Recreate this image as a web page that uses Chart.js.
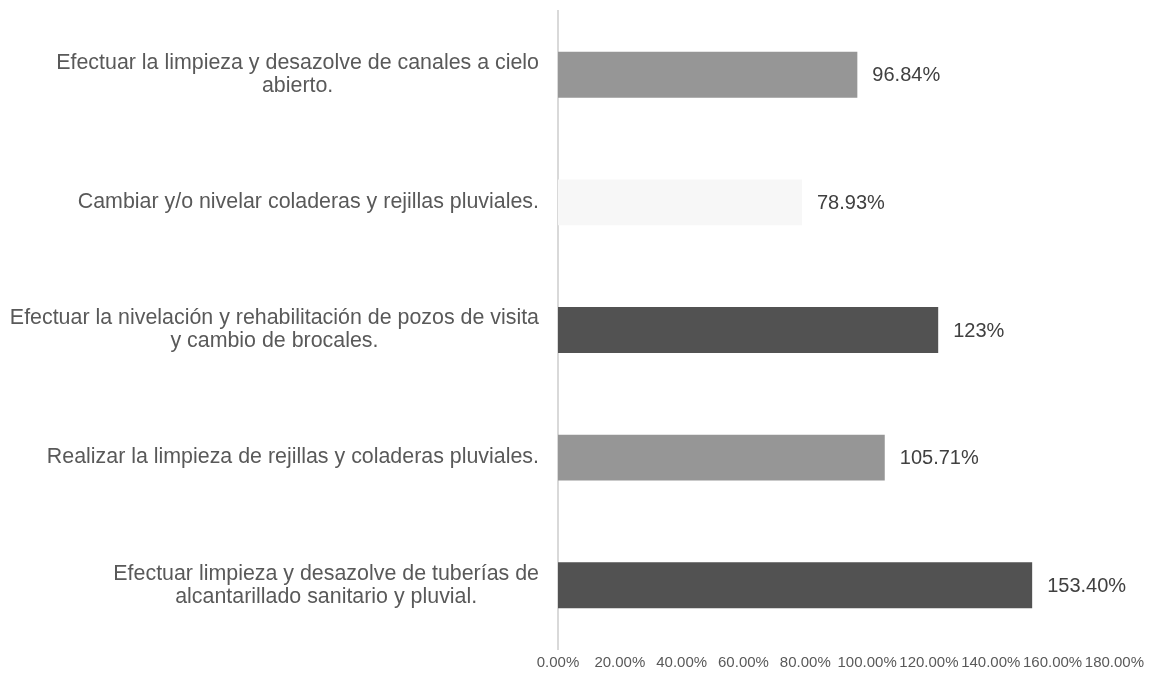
<!DOCTYPE html>
<html>
<head>
<meta charset="utf-8">
<script src="https://cdn.jsdelivr.net/npm/chart.js@4/dist/chart.umd.min.js"></script>
<style>
  body { margin: 0; background: #fff; }
  #wrap { width: 1149px; height: 677px; }
</style>
</head>
<body>
<div id="wrap"><canvas id="myChart"></canvas></div>
<script>
// categories (each entry = lines of the wrapped label)
var categories = [
    ['Efectuar la limpieza y desazolve de canales a cielo', 'abierto.'],
    ['Cambiar y/o nivelar coladeras y rejillas pluviales.'],
    ['Efectuar la nivelación y rehabilitación de pozos de visita', 'y cambio de brocales.'],
    ['Realizar la limpieza de rejillas y coladeras pluviales.'],
    ['Efectuar limpieza y desazolve de tuberías de', 'alcantarillado sanitario y pluvial.']
];
var values = [96.84, 78.93, 123, 105.71, 153.40];
var valueLabels = ['96.84%', '78.93%', '123%', '105.71%', '153.40%'];
var tickValues = [0, 20, 40, 60, 80, 100, 120, 140, 160, 180];

var barColors = ['#969696', '#f7f7f7', '#525252', '#969696', '#525252'];
var FONT = '"Liberation Sans", Arial, sans-serif';

// category labels, drawn centered line by line like the original
var categoryLabels = {
    id: 'categoryLabels',
    afterDraw: function(chart) {
        var ctx = chart.ctx;
        var yScale = chart.scales.y;
        var rightEdge = chart.chartArea.left - 19;
        var lineHeight = 23;
        ctx.save();
        ctx.font = '21.4px ' + FONT;
        ctx.fillStyle = '#595959';
        ctx.textAlign = 'center';
        ctx.textBaseline = 'middle';
        categories.forEach(function(lines, i) {
            var y = yScale.getPixelForValue(i);
            var w = Math.max.apply(null, lines.map(function(l) { return ctx.measureText(l).width; }));
            var cx = rightEdge - w / 2;
            lines.forEach(function(line, k) {
                ctx.fillText(line, cx, y + (k - (lines.length - 1) / 2) * lineHeight);
            });
        });
        ctx.restore();
    }
};

// value labels at the end of each bar
var valueLabelPlugin = {
    id: 'valueLabels',
    afterDatasetsDraw: function(chart) {
        var ctx = chart.ctx;
        var meta = chart.getDatasetMeta(0);
        ctx.save();
        ctx.font = '20px ' + FONT;
        ctx.fillStyle = '#404040';
        ctx.textAlign = 'left';
        ctx.textBaseline = 'middle';
        meta.data.forEach(function(bar, i) {
            ctx.fillText(valueLabels[i], bar.x + 15, bar.y + 1);
        });
        ctx.restore();
    }
};

var ctx = document.getElementById('myChart').getContext('2d');
var myChart = new Chart(ctx, {
    type: 'bar',
    data: {
        labels: categories.map(function(c) { return c.join(' '); }),
        datasets: [{
            data: values,
            backgroundColor: barColors,
            borderWidth: 0,
            barPercentage: 0.36,
            categoryPercentage: 1
        }]
    },
    options: {
        indexAxis: 'y',
        responsive: true,
        maintainAspectRatio: false,
        animation: false,
        layout: {
            padding: { left: 558, right: 33, top: 11, bottom: 0 }
        },
        plugins: {
            legend: { display: false },
            tooltip: { enabled: false }
        },
        scales: {
            x: {
                min: 0,
                max: 180,
                grid: { display: false, drawTicks: false, tickLength: 0 },
                border: { display: false },
                afterBuildTicks: function(scale) {
                    scale.ticks = tickValues.map(function(v) { return { value: v }; });
                },
                ticks: {
                    autoSkip: false,
                    maxRotation: 0,
                    padding: 5,
                    color: '#595959',
                    font: { family: FONT, size: 15 },
                    callback: function(v) { return v.toFixed(2) + '%'; }
                }
            },
            y: {
                grid: { display: false, drawTicks: false, tickLength: 0 },
                border: { display: true, color: '#d9d9d9', width: 2 },
                ticks: { display: false }
            }
        }
    },
    plugins: [categoryLabels, valueLabelPlugin]
});
</script>
</body>
</html>
